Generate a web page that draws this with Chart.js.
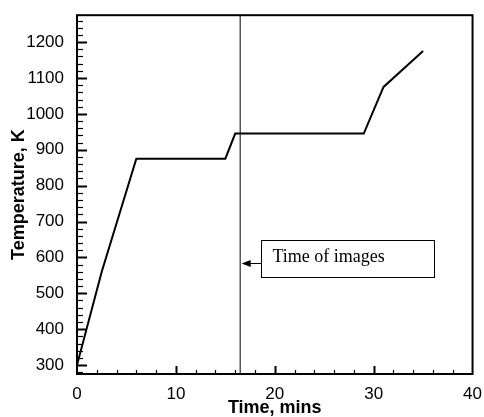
<!DOCTYPE html>
<html>
<head>
<meta charset="utf-8">
<script src="https://cdn.jsdelivr.net/npm/chart.js@4/dist/chart.umd.min.js"></script>
<style>
  body { margin: 0; background: #fff; }
</style>
</head>
<body>
<canvas id="tempChart" width="484" height="417"></canvas>
<script>
// heating schedule
const times = [0, 2.5, 6, 15, 16, 29, 31, 35];
const temps = [300, 560, 875, 875, 945, 945, 1075, 1175];
const imageTime = 16.5;
const xTicks = [0, 10, 20, 30, 40];
const yTicks = [300, 400, 500, 600, 700, 800, 900, 1000, 1100, 1200];

// note box, in data units
const noteText = 'Time of images';
const noteBox = { x0: 18.6, x1: 36.1, y0: 545, y1: 648, arrowY: 583 };

const sans = '"Liberation Sans", Arial, sans-serif';

// inward ticks + frame + annotation
const framePlugin = {
  id: 'frame',
  afterDatasetsDraw(chart) {
    const { ctx, chartArea: a, scales: { x, y } } = chart;
    ctx.save();
    ctx.strokeStyle = '#000';

    // y ticks
    for (let v = 280; v <= 1275; v += 20) {
      const py = Math.round(y.getPixelForValue(v)) + 0.5;
      const major = v % 100 === 0;
      ctx.lineWidth = major ? 2 : 1.2;
      ctx.beginPath();
      ctx.moveTo(a.left, py);
      ctx.lineTo(a.left + (major ? 10 : 6), py);
      ctx.stroke();
    }
    // x ticks
    for (let v = 2; v < 40; v += 2) {
      const px = Math.round(x.getPixelForValue(v)) + 0.5;
      const major = v % 10 === 0;
      ctx.lineWidth = major ? 2 : 1.2;
      ctx.beginPath();
      ctx.moveTo(px, a.bottom);
      ctx.lineTo(px, a.bottom - (major ? 8 : 4));
      ctx.stroke();
    }

    ctx.lineWidth = 2;
    ctx.strokeRect(a.left, a.top, a.right - a.left, a.bottom - a.top);

    // annotation
    const bx0 = x.getPixelForValue(noteBox.x0), bx1 = x.getPixelForValue(noteBox.x1);
    const by0 = y.getPixelForValue(noteBox.y1), by1 = y.getPixelForValue(noteBox.y0);
    ctx.lineWidth = 1;
    ctx.strokeRect(Math.round(bx0) + 0.5, Math.round(by0) + 0.5, Math.round(bx1 - bx0), Math.round(by1 - by0));
    ctx.fillStyle = '#000';
    ctx.font = '18px "Liberation Serif", "Times New Roman", serif';
    ctx.textBaseline = 'middle';
    ctx.fillText(noteText, bx0 + 11.5, (by0 + by1) / 2 - 1);

    const ay = Math.round(y.getPixelForValue(noteBox.arrowY)) + 0.5;
    const tip = x.getPixelForValue(imageTime) + 1.5;
    ctx.beginPath();
    ctx.moveTo(bx0, ay);
    ctx.lineTo(tip + 7, ay);
    ctx.stroke();
    ctx.beginPath();
    ctx.moveTo(tip, ay);
    ctx.lineTo(tip + 9, ay - 3.5);
    ctx.lineTo(tip + 9, ay + 3.5);
    ctx.closePath();
    ctx.fill();
    ctx.restore();
  }
};

const ctx = document.getElementById('tempChart');
new Chart(ctx, {
  type: 'line',
  data: {
    datasets: [{
      data: times.map((t, i) => ({ x: t, y: temps[i] })),
      borderColor: '#000',
      borderWidth: 2,
      pointRadius: 0,
      tension: 0
    }, {
      data: [{ x: imageTime, y: 275 }, { x: imageTime, y: 1275 }],
      borderColor: '#000',
      borderWidth: 1,
      pointRadius: 0
    }]
  },
  options: {
    responsive: false,
    animation: false,
    layout: { padding: { top: 14, right: 11, left: 0, bottom: 0 } },
    plugins: { legend: { display: false }, tooltip: { enabled: false } },
    scales: {
      x: {
        type: 'linear',
        min: 0,
        max: 40,
        afterBuildTicks: s => { s.ticks = xTicks.map(v => ({ value: v })); },
        afterFit: s => { s.height = 43; },
        grid: { display: false },
        border: { display: false },
        ticks: { color: '#000', padding: 2, maxRotation: 0, callback: v => String(v), font: { family: sans, size: 17 } },
        title: {
          display: true,
          text: 'Time, mins',
          color: '#000',
          padding: { top: 0, bottom: 0 },
          font: { family: sans, size: 18, weight: 'bold', lineHeight: 1.0 }
        }
      },
      y: {
        min: 275,
        max: 1275,
        afterBuildTicks: s => { s.ticks = yTicks.map(v => ({ value: v })); },
        afterFit: s => { s.width = 77; },
        grid: { display: false },
        border: { display: false },
        ticks: { color: '#000', padding: 5, callback: v => String(v), font: { family: sans, size: 17 } },
        title: {
          display: true,
          text: 'Temperature, K',
          color: '#000',
          padding: { top: 8, bottom: 0 },
          font: { family: sans, size: 18, weight: 'bold' }
        }
      }
    }
  },
  plugins: [framePlugin]
});
</script>
</body>
</html>
